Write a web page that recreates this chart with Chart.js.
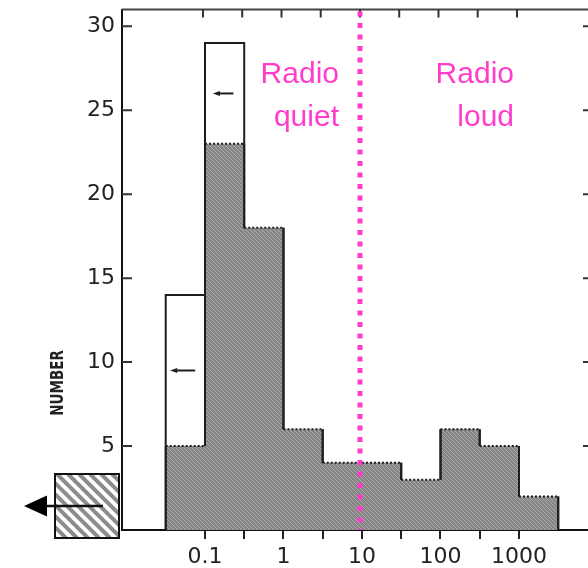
<!DOCTYPE html>
<html>
<head>
<meta charset="utf-8">
<script src="https://cdn.jsdelivr.net/npm/chart.js@4/dist/chart.umd.min.js"></script>
<style>
    html, body { margin: 0; padding: 0; background: #fff; overflow: hidden; }
    #wrap { width: 600px; height: 568px; }
</style>
</head>
<body>
<div id="wrap"><canvas id="histChart" width="600" height="568"></canvas></div>
<script>
// bin edges (radio loudness R), half-decade bins
const binEdges = [0.0316, 0.1, 0.316, 1, 3.16, 10, 31.6, 100, 316, 1000, 3162];
// all objects (open + hatched)
const totalCounts = [14, 29, 18, 6, 4, 4, 3, 6, 5, 2];
// radio detections (hatched)
const detectedCounts = [5, 23, 18, 6, 4, 4, 3, 6, 5, 2];

const xTickValues = [0.1, 0.316, 1, 3.16, 10, 31.6, 100, 316, 1000];
const xTickLabels = ['0.1', '', '1', '', '10', '', '100', '', '1000'];
const yTickValues = [0, 5, 10, 15, 20, 25, 30];

// upper-limit arrows: [tail x, head x, y]
const limitArrows = [
    [0.075, 0.036, 9.5],
    [0.23, 0.126, 26]
];

const radioDivider = 10;
const MAGENTA = '#ff3ccc';
const INK = '#1e1e1e';

// builds the outline of a histogram as corner points
function stepOutline(edges, counts) {
    const pts = [{ x: edges[0], y: 0 }];
    for (let i = 0; i < counts.length; i++) {
        pts.push({ x: edges[i], y: counts[i] });
        pts.push({ x: edges[i + 1], y: counts[i] });
    }
    pts.push({ x: edges[edges.length - 1], y: 0 });
    return pts;
}

function isHorizontal(seg) {
    return seg.p0.parsed.y === seg.p1.parsed.y && seg.p0.parsed.x !== seg.p1.parsed.x;
}

function binOfSegment(seg) {
    return Math.floor((seg.p0DataIndex - 1) / 2);
}

const hatchPattern = (function() {
    const c = document.createElement('canvas');
    c.width = 4;
    c.height = 4;
    const g = c.getContext('2d');
    g.fillStyle = '#858585';
    g.fillRect(0, 0, 4, 4);
    g.fillStyle = '#ababab';
    for (let i = 0; i < 4; i++) g.fillRect(i, i, 1, 1);
    return g.createPattern(c, 'repeat');
})();

const decorPlugin = {
    id: 'decor',
    afterDraw(chart) {
        const ctx = chart.ctx;
        const area = chart.chartArea;
        const xs = chart.scales.x;
        const ys = chart.scales.y;
        ctx.save();

        // top and right frame
        ctx.strokeStyle = '#444';
        ctx.lineWidth = 2;
        ctx.beginPath();
        ctx.moveTo(area.left, area.top);
        ctx.lineTo(area.right, area.top);
        ctx.lineTo(area.right, area.bottom);
        ctx.stroke();

        // inward ticks
        ctx.strokeStyle = '#333';
        ctx.lineWidth = 2;
        ctx.beginPath();
        yTickValues.forEach(v => {
            if (v === 0) return;
            const py = ys.getPixelForValue(v);
            ctx.moveTo(area.left, py);
            ctx.lineTo(area.left + 10, py);
            ctx.moveTo(area.right, py);
            ctx.lineTo(area.right - 9, py);
        });
        xTickValues.forEach(v => {
            const px = xs.getPixelForValue(v) - 2;
            ctx.moveTo(px, area.top);
            ctx.lineTo(px, area.top + 8);
        });
        ctx.stroke();

        // upper-limit arrows inside the open bars
        ctx.strokeStyle = INK;
        ctx.fillStyle = INK;
        ctx.lineWidth = 2;
        limitArrows.forEach(a => {
            const x0 = xs.getPixelForValue(a[0]);
            const x1 = xs.getPixelForValue(a[1]);
            const py = ys.getPixelForValue(a[2]);
            ctx.beginPath();
            ctx.moveTo(x0, py);
            ctx.lineTo(x1 + 5, py);
            ctx.stroke();
            ctx.beginPath();
            ctx.moveTo(x1, py);
            ctx.lineTo(x1 + 7, py - 2.5);
            ctx.lineTo(x1 + 7, py + 2.5);
            ctx.closePath();
            ctx.fill();
        });

        // dotted divider
        const dx = xs.getPixelForValue(radioDivider) - 2;
        ctx.strokeStyle = MAGENTA;
        ctx.lineWidth = 5;
        ctx.setLineDash([5, 6.5]);
        ctx.beginPath();
        ctx.moveTo(dx, area.top + 2);
        ctx.lineTo(dx, area.bottom);
        ctx.stroke();
        ctx.setLineDash([]);

        // region labels
        ctx.fillStyle = MAGENTA;
        ctx.font = '30px "Liberation Sans", Arial, sans-serif';
        ctx.textAlign = 'right';
        ctx.textBaseline = 'alphabetic';
        ctx.fillText('Radio', dx - 21, area.top + 73.5);
        ctx.fillText('quiet', dx - 21, area.top + 116.5);
        const lx = xs.getPixelForValue(1000) - 5;
        ctx.fillText('Radio', lx, area.top + 73.5);
        ctx.fillText('loud', lx, area.top + 116.5);

        // y axis title
        ctx.save();
        ctx.translate(58, 383);
        ctx.rotate(-Math.PI / 2);
        ctx.scale(1, 1.2);
        ctx.fillStyle = '#222';
        ctx.font = 'bold 15px "DejaVu Sans Condensed", "Liberation Sans", sans-serif';
        ctx.textAlign = 'center';
        ctx.textBaseline = 'middle';
        ctx.fillText('NUMBER', 0, 0);
        ctx.restore();

        // key: hatched box with arrow
        const bx = area.left - 67, by = area.bottom - 56, bw = 64, bh = 64;
        ctx.save();
        ctx.beginPath();
        ctx.rect(bx, by, bw, bh);
        ctx.clip();
        ctx.fillStyle = '#fff';
        ctx.fillRect(bx, by, bw, bh);
        ctx.strokeStyle = '#8c8c8c';
        ctx.lineWidth = 4;
        ctx.beginPath();
        for (let k = -bh; k < bw + 11; k += 11) {
            ctx.moveTo(bx + k, by);
            ctx.lineTo(bx + k + bh, by + bh);
        }
        ctx.stroke();
        ctx.restore();
        ctx.strokeStyle = '#111';
        ctx.lineWidth = 2;
        ctx.strokeRect(bx, by, bw, bh);

        const ay = by + 32;
        ctx.lineWidth = 2.5;
        ctx.beginPath();
        ctx.moveTo(bx + 48, ay);
        ctx.lineTo(bx - 10, ay);
        ctx.stroke();
        ctx.fillStyle = '#000';
        ctx.beginPath();
        ctx.moveTo(bx - 31, ay);
        ctx.lineTo(bx - 8, ay - 10.5);
        ctx.lineTo(bx - 8, ay + 10.5);
        ctx.closePath();
        ctx.fill();

        ctx.restore();
    }
};

const ctx = document.getElementById('histChart');
new Chart(ctx, {
    type: 'line',
    data: {
        datasets: [
            {
                label: 'All',
                data: stepOutline(binEdges, totalCounts),
                borderColor: INK,
                borderWidth: 2,
                fill: false,
                pointRadius: 0,
                order: 0,
                segment: {
                    borderColor: seg => {
                        if (!isHorizontal(seg)) return undefined;
                        const b = binOfSegment(seg);
                        return totalCounts[b] === detectedCounts[b] ? 'rgba(0,0,0,0)' : undefined;
                    }
                }
            },
            {
                label: 'Detected outline',
                data: stepOutline(binEdges, detectedCounts),
                borderColor: INK,
                borderWidth: 2,
                fill: false,
                pointRadius: 0,
                order: 1,
                segment: {
                    borderDash: seg => isHorizontal(seg) ? [2, 2] : undefined
                }
            },
            {
                label: 'Detected',
                data: stepOutline(binEdges, detectedCounts),
                borderWidth: 0,
                borderColor: 'rgba(0,0,0,0)',
                backgroundColor: hatchPattern,
                fill: 'origin',
                pointRadius: 0,
                order: 2
            }
        ]
    },
    options: {
        responsive: false,
        animation: false,
        layout: {
            padding: { top: 9.5, right: 8, left: 0, bottom: 0 }
        },
        plugins: {
            legend: { display: false },
            tooltip: { enabled: false }
        },
        elements: {
            line: { tension: 0 }
        },
        scales: {
            x: {
                type: 'logarithmic',
                min: 0.008766,
                max: 8511,
                afterBuildTicks: scale => {
                    scale.ticks = xTickValues.map(v => ({ value: v }));
                },
                afterFit: scale => {
                    scale.height = 38;
                    scale.paddingLeft = 0;
                    scale.paddingRight = 0;
                },
                ticks: {
                    autoSkip: false,
                    maxRotation: 0,
                    padding: 5,
                    color: '#222',
                    font: { family: 'DejaVu Sans', size: 22 },
                    callback: (value, index) => xTickLabels[index]
                },
                grid: {
                    drawOnChartArea: false,
                    drawTicks: true,
                    tickLength: 9,
                    color: '#222',
                    lineWidth: 2
                },
                border: { display: true, color: '#111', width: 2 }
            },
            y: {
                min: 0,
                max: 31,
                afterBuildTicks: scale => {
                    scale.ticks = yTickValues.map(v => ({ value: v }));
                },
                afterFit: scale => {
                    scale.width = 122;
                    scale.paddingTop = 0;
                    scale.paddingBottom = 0;
                },
                ticks: {
                    padding: 7,
                    color: '#222',
                    font: { family: 'DejaVu Sans', size: 22 },
                    callback: value => value === 0 ? '' : value
                },
                grid: {
                    drawOnChartArea: false,
                    drawTicks: false
                },
                border: { display: true, color: '#111', width: 2 }
            }
        }
    },
    plugins: [decorPlugin]
});
</script>
</body>
</html>
